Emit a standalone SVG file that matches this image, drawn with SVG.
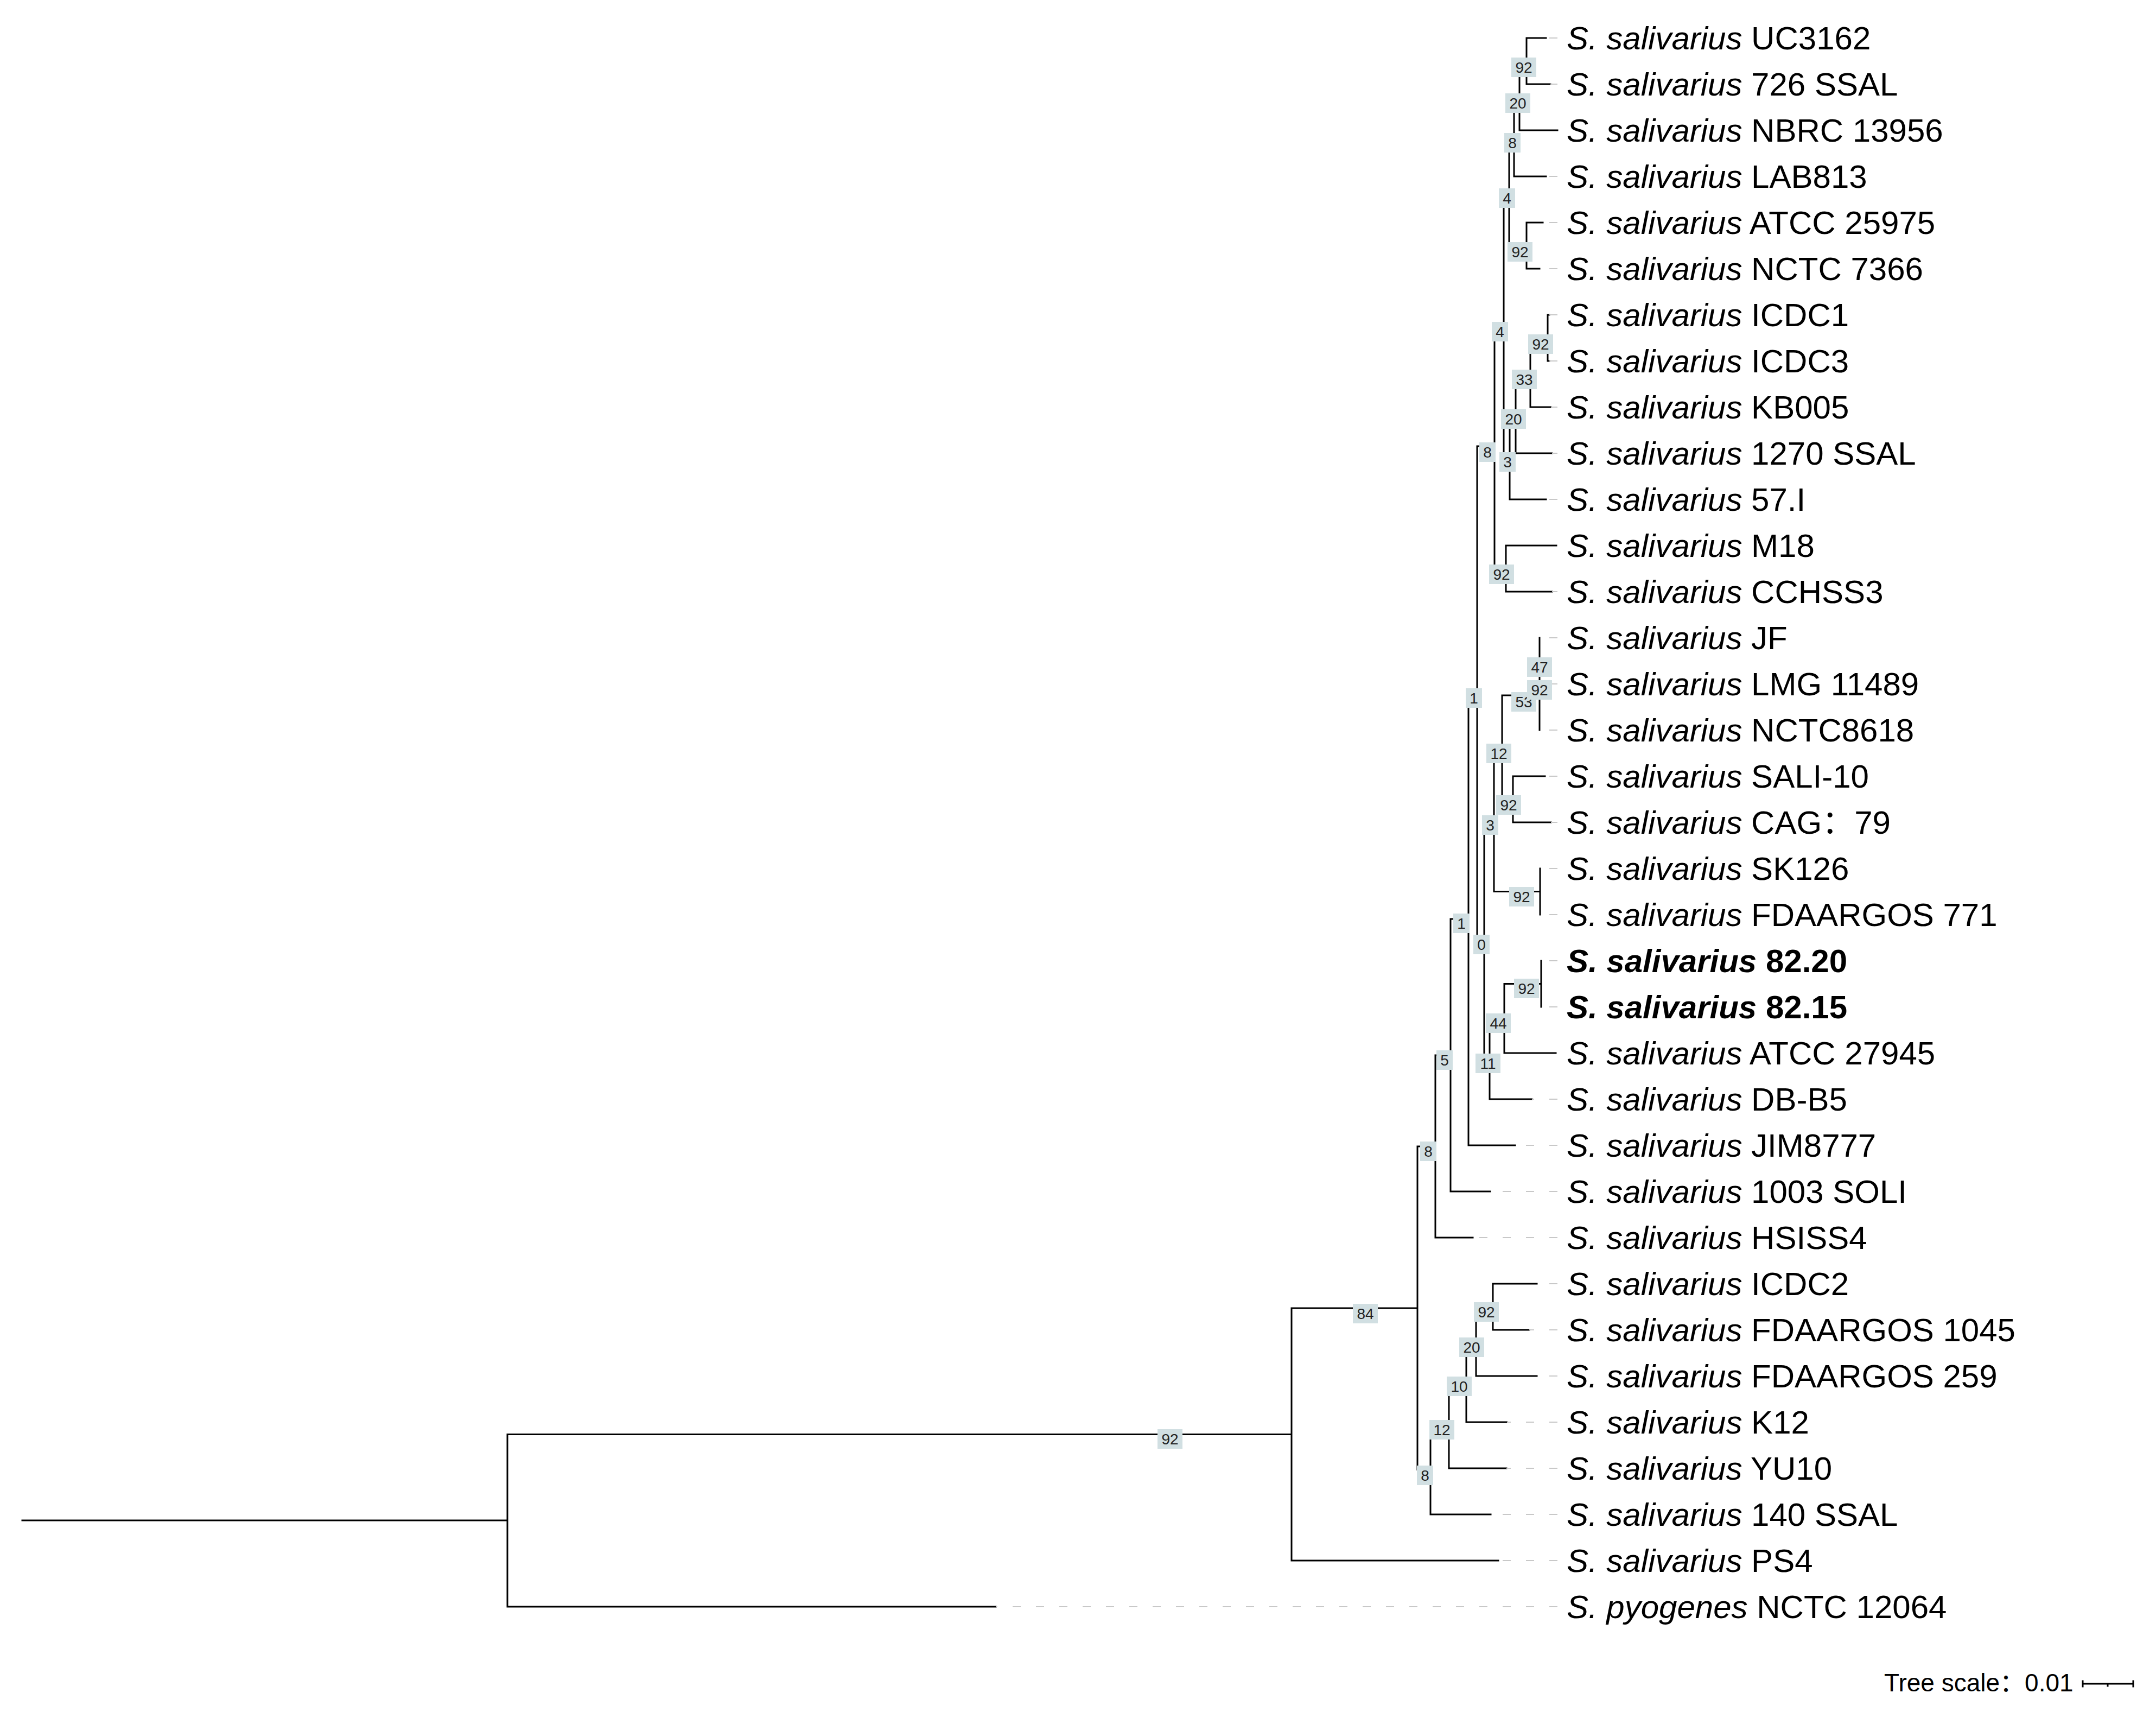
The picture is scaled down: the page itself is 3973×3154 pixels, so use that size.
<svg xmlns="http://www.w3.org/2000/svg" width="3973" height="3154" viewBox="0 0 3973 3154">
<style>
.br{fill:none;stroke:#000;stroke-width:3;stroke-linecap:square}
.ld{fill:none;stroke:#c8c8c8;stroke-width:2;stroke-dasharray:15 28}
.lf{font-family:"Liberation Sans",Arial,sans-serif;font-size:60px;fill:#000}
.lf .sp{font-style:italic}
.b{font-weight:bold}
.bx{fill:#d1dfe2}
.bt{font-family:"Liberation Sans",Arial,sans-serif;font-size:28px;fill:#222;text-anchor:middle}
</style>
<rect width="3973" height="3154" fill="#fff"/>
<g id="connectors">
<path class="br" d="M41 2801H935M935 2642.5V2960M935 2642.5H2380M935 2960H1835
M2380 2410V2875M2380 2410H2612M2380 2875H2761
M2612 2112V2707.5M2612 2112H2645M2612 2707.5H2636
M2645 1944V2280M2645 1944H2673M2645 2280H2714
M2673 1693V2195M2673 1693H2706M2673 2195H2746
M2706 1276V2110M2706 1276H2722M2706 2110H2792
M2722 822V1730M2722 822H2754M2722 1730H2735
M2754 596V1047.5M2754 596H2771M2754 1047.5H2775
M2775 1005V1090M2775 1005H2868M2775 1090H2860
M2771 351.5V840M2771 351.5H2781M2771 840H2782
M2781 250.5V452.5M2781 250.5H2790M2781 452.5H2813
M2813 410V495M2813 410H2843M2813 495H2837
M2790 176V325M2790 176H2800M2790 325H2849
M2800 112.5V240M2800 112.5H2813M2800 240H2870
M2813 70V155M2813 70H2849M2813 155H2857
M2782 760.5V920M2782 760.5H2793M2782 920H2849
M2793 686V835M2793 686H2820M2793 835H2860
M2820 622.5V750M2820 622.5H2852M2820 750H2858
M2852 580V665M2852 580H2855M2852 665H2855
M2735 1510V1950.5M2735 1510H2753M2735 1950.5H2745
M2753 1377V1642.5M2753 1377H2768M2753 1642.5H2838
M2838 1600V1685
M2768 1281V1472.5M2768 1281H2837M2768 1472.5H2788
M2837 1175V1345
M2788 1430V1515M2788 1430H2847M2788 1515H2858
M2745 1876V2025M2745 1876H2772M2745 2025H2823
M2772 1812.5V1940M2772 1812.5H2840M2772 1940H2867
M2840 1770V1855
M2636 2625V2790M2636 2625H2670M2636 2790H2747
M2670 2545.5V2705M2670 2545.5H2702M2670 2705H2776
M2702 2471V2620M2702 2471H2720M2702 2620H2777
M2720 2407.5V2535M2720 2407.5H2751M2720 2535H2832
M2751 2365V2450M2751 2365H2832M2751 2450H2818"/>
<path class="ld" d="M2870 70H2849M2870 155H2857M2870 325H2849M2870 410H2843M2870 495H2837M2870 580H2855M2870 665H2855M2870 750H2858M2870 835H2860M2870 920H2849M2870 1090H2860M2870 1175H2837M2870 1260H2837M2870 1345H2837M2870 1430H2847M2870 1515H2858M2870 1600H2838M2870 1685H2838M2870 1770H2840M2870 1855H2840M2870 2025H2823M2870 2110H2792M2870 2195H2746M2870 2280H2714M2870 2365H2832M2870 2450H2818M2870 2535H2832M2870 2620H2777M2870 2705H2776M2870 2790H2747M2870 2875H2761M2870 2960H1835"/>
</g>
<g id="leaves" class="lf">
<g id="leaf-UC3162"><text x="2887" y="91"><tspan class="sp">S. salivarius</tspan> UC3162</text></g>
<g id="leaf-726SSAL"><text x="2887" y="176"><tspan class="sp">S. salivarius</tspan> 726 SSAL</text></g>
<g id="leaf-NBRC13956"><text x="2887" y="261"><tspan class="sp">S. salivarius</tspan> NBRC 13956</text></g>
<g id="leaf-LAB813"><text x="2887" y="346"><tspan class="sp">S. salivarius</tspan> LAB813</text></g>
<g id="leaf-ATCC25975"><text x="2887" y="431"><tspan class="sp">S. salivarius</tspan> ATCC 25975</text></g>
<g id="leaf-NCTC7366"><text x="2887" y="516"><tspan class="sp">S. salivarius</tspan> NCTC 7366</text></g>
<g id="leaf-ICDC1"><text x="2887" y="601"><tspan class="sp">S. salivarius</tspan> ICDC1</text></g>
<g id="leaf-ICDC3"><text x="2887" y="686"><tspan class="sp">S. salivarius</tspan> ICDC3</text></g>
<g id="leaf-KB005"><text x="2887" y="771"><tspan class="sp">S. salivarius</tspan> KB005</text></g>
<g id="leaf-1270SSAL"><text x="2887" y="856"><tspan class="sp">S. salivarius</tspan> 1270 SSAL</text></g>
<g id="leaf-57I"><text x="2887" y="941"><tspan class="sp">S. salivarius</tspan> 57.I</text></g>
<g id="leaf-M18"><text x="2887" y="1026"><tspan class="sp">S. salivarius</tspan> M18</text></g>
<g id="leaf-CCHSS3"><text x="2887" y="1111"><tspan class="sp">S. salivarius</tspan> CCHSS3</text></g>
<g id="leaf-JF"><text x="2887" y="1196"><tspan class="sp">S. salivarius</tspan> JF</text></g>
<g id="leaf-LMG11489"><text x="2887" y="1281"><tspan class="sp">S. salivarius</tspan> LMG 11489</text></g>
<g id="leaf-NCTC8618"><text x="2887" y="1366"><tspan class="sp">S. salivarius</tspan> NCTC8618</text></g>
<g id="leaf-SALI10"><text x="2887" y="1451"><tspan class="sp">S. salivarius</tspan> SALI-10</text></g>
<g id="leaf-CAG79"><text x="2887" y="1536"><tspan class="sp">S. salivarius</tspan> CAG<tspan font-family="'Noto Sans CJK SC',sans-serif">：</tspan>79</text></g>
<g id="leaf-SK126"><text x="2887" y="1621"><tspan class="sp">S. salivarius</tspan> SK126</text></g>
<g id="leaf-FDAARGOS771"><text x="2887" y="1706"><tspan class="sp">S. salivarius</tspan> FDAARGOS 771</text></g>
<g id="leaf-8220"><text class="b" x="2887" y="1791"><tspan class="sp">S. salivarius</tspan> 82.20</text></g>
<g id="leaf-8215"><text class="b" x="2887" y="1876"><tspan class="sp">S. salivarius</tspan> 82.15</text></g>
<g id="leaf-ATCC27945"><text x="2887" y="1961"><tspan class="sp">S. salivarius</tspan> ATCC 27945</text></g>
<g id="leaf-DBB5"><text x="2887" y="2046"><tspan class="sp">S. salivarius</tspan> DB-B5</text></g>
<g id="leaf-JIM8777"><text x="2887" y="2131"><tspan class="sp">S. salivarius</tspan> JIM8777</text></g>
<g id="leaf-1003SOLI"><text x="2887" y="2216"><tspan class="sp">S. salivarius</tspan> 1003 SOLI</text></g>
<g id="leaf-HSISS4"><text x="2887" y="2301"><tspan class="sp">S. salivarius</tspan> HSISS4</text></g>
<g id="leaf-ICDC2"><text x="2887" y="2386"><tspan class="sp">S. salivarius</tspan> ICDC2</text></g>
<g id="leaf-FDAARGOS1045"><text x="2887" y="2471"><tspan class="sp">S. salivarius</tspan> FDAARGOS 1045</text></g>
<g id="leaf-FDAARGOS259"><text x="2887" y="2556"><tspan class="sp">S. salivarius</tspan> FDAARGOS 259</text></g>
<g id="leaf-K12"><text x="2887" y="2641"><tspan class="sp">S. salivarius</tspan> K12</text></g>
<g id="leaf-YU10"><text x="2887" y="2726"><tspan class="sp">S. salivarius</tspan> YU10</text></g>
<g id="leaf-140SSAL"><text x="2887" y="2811"><tspan class="sp">S. salivarius</tspan> 140 SSAL</text></g>
<g id="leaf-PS4"><text x="2887" y="2896"><tspan class="sp">S. salivarius</tspan> PS4</text></g>
<g id="leaf-pyogenes"><text x="2887" y="2981"><tspan class="sp">S. pyogenes</tspan> NCTC 12064</text></g>
</g>
<g id="bootstrap">
<g id="bs1"><rect class="bx" x="2785" y="106" width="46" height="36"/><text class="bt" x="2808" y="134">92</text></g>
<g id="bs2"><rect class="bx" x="2774" y="172" width="46" height="36"/><text class="bt" x="2797" y="200">20</text></g>
<g id="bs3"><rect class="bx" x="2772" y="245" width="30" height="36"/><text class="bt" x="2787" y="273">8</text></g>
<g id="bs4"><rect class="bx" x="2762" y="347" width="30" height="36"/><text class="bt" x="2777" y="375">4</text></g>
<g id="bs5"><rect class="bx" x="2778" y="446" width="46" height="36"/><text class="bt" x="2801" y="474">92</text></g>
<g id="bs6"><rect class="bx" x="2749" y="593" width="30" height="36"/><text class="bt" x="2764" y="621">4</text></g>
<g id="bs7"><rect class="bx" x="2816" y="616" width="46" height="36"/><text class="bt" x="2839" y="644">92</text></g>
<g id="bs8"><rect class="bx" x="2786" y="681" width="46" height="36"/><text class="bt" x="2809" y="709">33</text></g>
<g id="bs9"><rect class="bx" x="2766" y="754" width="46" height="36"/><text class="bt" x="2789" y="782">20</text></g>
<g id="bs10"><rect class="bx" x="2726" y="815" width="30" height="36"/><text class="bt" x="2741" y="843">8</text></g>
<g id="bs11"><rect class="bx" x="2763" y="833" width="30" height="36"/><text class="bt" x="2778" y="861">3</text></g>
<g id="bs12"><rect class="bx" x="2744" y="1040" width="46" height="36"/><text class="bt" x="2767" y="1068">92</text></g>
<g id="bs13"><rect class="bx" x="2701" y="1268" width="30" height="36"/><text class="bt" x="2716" y="1296">1</text></g>
<g id="bs14"><rect class="bx" x="2814" y="1211" width="46" height="36"/><text class="bt" x="2837" y="1239">47</text></g>
<g id="bs15"><rect class="bx" x="2785" y="1275" width="46" height="36"/><text class="bt" x="2808" y="1303">53</text></g>
<g id="bs16"><rect class="bx" x="2814" y="1253" width="46" height="36"/><text class="bt" x="2837" y="1281">92</text></g>
<g id="bs17"><rect class="bx" x="2739" y="1370" width="46" height="36"/><text class="bt" x="2762" y="1398">12</text></g>
<g id="bs18"><rect class="bx" x="2757" y="1465" width="46" height="36"/><text class="bt" x="2780" y="1493">92</text></g>
<g id="bs19"><rect class="bx" x="2731" y="1502" width="30" height="36"/><text class="bt" x="2746" y="1530">3</text></g>
<g id="bs20"><rect class="bx" x="2781" y="1634" width="46" height="36"/><text class="bt" x="2804" y="1662">92</text></g>
<g id="bs21"><rect class="bx" x="2678" y="1683" width="30" height="36"/><text class="bt" x="2693" y="1711">1</text></g>
<g id="bs22"><rect class="bx" x="2715" y="1722" width="30" height="36"/><text class="bt" x="2730" y="1750">0</text></g>
<g id="bs23"><rect class="bx" x="2790" y="1803" width="46" height="36"/><text class="bt" x="2813" y="1831">92</text></g>
<g id="bs24"><rect class="bx" x="2738" y="1867" width="46" height="36"/><text class="bt" x="2761" y="1895">44</text></g>
<g id="bs25"><rect class="bx" x="2719" y="1941" width="46" height="36"/><text class="bt" x="2742" y="1969">11</text></g>
<g id="bs26"><rect class="bx" x="2647" y="1935" width="30" height="36"/><text class="bt" x="2662" y="1963">5</text></g>
<g id="bs27"><rect class="bx" x="2617" y="2103" width="30" height="36"/><text class="bt" x="2632" y="2131">8</text></g>
<g id="bs28"><rect class="bx" x="2493" y="2402" width="46" height="36"/><text class="bt" x="2516" y="2430">84</text></g>
<g id="bs29"><rect class="bx" x="2133" y="2633" width="46" height="36"/><text class="bt" x="2156" y="2661">92</text></g>
<g id="bs30"><rect class="bx" x="2716" y="2399" width="46" height="36"/><text class="bt" x="2739" y="2427">92</text></g>
<g id="bs31"><rect class="bx" x="2689" y="2464" width="46" height="36"/><text class="bt" x="2712" y="2492">20</text></g>
<g id="bs32"><rect class="bx" x="2666" y="2536" width="46" height="36"/><text class="bt" x="2689" y="2564">10</text></g>
<g id="bs33"><rect class="bx" x="2634" y="2616" width="46" height="36"/><text class="bt" x="2657" y="2644">12</text></g>
<g id="bs34"><rect class="bx" x="2611" y="2700" width="30" height="36"/><text class="bt" x="2626" y="2728">8</text></g>
</g>
<g id="scale">
<text x="3472" y="3116" font-family="'Liberation Sans','Noto Sans CJK SC',sans-serif" font-size="46">Tree scale<tspan font-family="'Noto Sans CJK SC',sans-serif">：</tspan>0.01</text>
<path class="br" d="M3838 3102H3931M3838 3097V3107M3931 3097V3107M3884 3102V3106"/>
</g>
</svg>
